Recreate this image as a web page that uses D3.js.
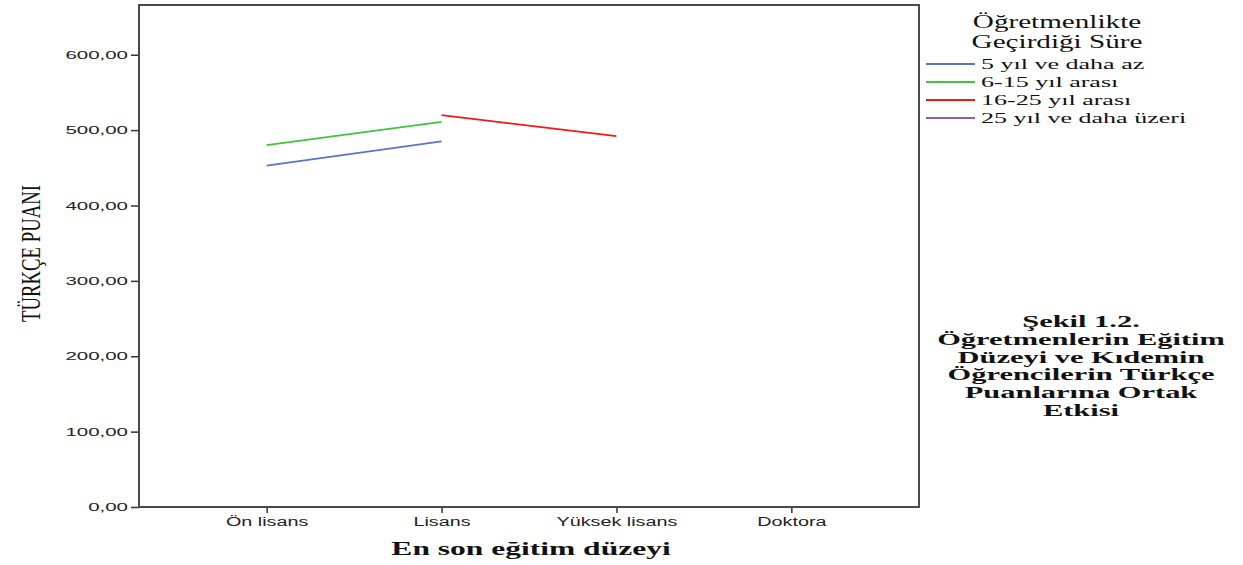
<!DOCTYPE html>
<html>
<head>
<meta charset="utf-8">
<script src="https://cdn.jsdelivr.net/npm/d3@7"></script>
<style>
  body { margin: 0; background: #fff; }
  .tick text { font-family: "Liberation Sans", Arial, sans-serif; fill: #222; }
  .serif { font-family: "Liberation Serif", "Times New Roman", serif; fill: #111; }
</style>
</head>
<body>
<div id="chart"></div>
<script>
// categories and series
const levels = ['Ön lisans', 'Lisans', 'Yüksek lisans', 'Doktora'];
const seriesNames = ['5 yıl ve daha az', '6-15 yıl arası', '16-25 yıl arası', '25 yıl ve daha üzeri'];
const lessThan5 = [453, 485, null, null];
const from6to15 = [480, 511, null, null];
const from16to25 = [null, 520, 492, null];
const over25 = [null, null, null, null];
const yTicks = [0, 100, 200, 300, 400, 500, 600];
const legendTitle = ['Öğretmenlikte', 'Geçirdiği Süre'];
const captionLines = ['Şekil 1.2.', 'Öğretmenlerin Eğitim', 'Düzeyi ve Kıdemin', 'Öğrencilerin Türkçe', 'Puanlarına Ortak', 'Etkisi'];

const colors = ['#5a72c8', '#3ec43e', '#f21818', '#9a58a4'];
const allSeries = [lessThan5, from6to15, from16to25, over25];

const svgWidth = 1243;
const svgHeight = 565;
const plot = { left: 139, top: 5, right: 919, bottom: 507 };
// the original picture is stretched sideways, so is its text
const stretch = 1.68;

const svg = d3.select('#chart')
  .append('svg')
  .attr('width', svgWidth)
  .attr('height', svgHeight);

const x = d3.scalePoint()
  .domain(levels)
  .range([plot.left, plot.right])
  .padding(0.73);

const y = d3.scaleLinear()
  .domain([0, 666])
  .range([plot.bottom, plot.top]);

// axes
const yAxis = svg.append('g')
  .attr('transform', `translate(${plot.left},0)`)
  .call(d3.axisLeft(y).tickValues(yTicks).tickSize(8)
    .tickFormat(d => d3.format('.2f')(d).replace('.', ',')));
yAxis.select('.domain').remove();
yAxis.selectAll('.tick line').attr('stroke', '#333').attr('stroke-width', 1.5);
yAxis.selectAll('.tick text')
  .attr('x', 0)
  .attr('font-size', 11.5)
  .attr('transform', 'translate(-11,0) scale(1.78,1)');

const xAxis = svg.append('g')
  .attr('transform', `translate(0,${plot.bottom})`)
  .call(d3.axisBottom(x).tickSize(6).tickPadding(4));
xAxis.select('.domain').remove();
xAxis.selectAll('.tick line').attr('stroke', '#333').attr('stroke-width', 1.5);
xAxis.selectAll('.tick text')
  .attr('font-size', 12)
  .attr('transform', 'scale(1.65,1)');

// frame
svg.append('rect')
  .attr('x', plot.left)
  .attr('y', plot.top)
  .attr('width', plot.right - plot.left)
  .attr('height', plot.bottom - plot.top)
  .attr('fill', 'none')
  .attr('stroke', '#4a4a4a')
  .attr('stroke-width', 2);

// lines
const line = d3.line()
  .defined(d => d.v !== null)
  .x(d => x(d.k))
  .y(d => y(d.v));

allSeries.forEach((vals, i) => {
  svg.append('path')
    .attr('d', line(vals.map((v, j) => ({ k: levels[j], v }))))
    .attr('fill', 'none')
    .attr('stroke', colors[i])
    .attr('stroke-width', 1.8);
});

// text placed at (px, py) and widened like the original
function wideText(parent, px, py, str, size, anchor, bold, sx) {
  return parent.append('text')
    .attr('class', 'serif')
    .attr('transform', `translate(${px},${py}) scale(${sx || stretch},1)`)
    .attr('text-anchor', anchor)
    .attr('font-size', size)
    .attr('font-weight', bold ? 'bold' : 'normal')
    .text(str);
}

// axis titles
wideText(svg, 531, 555, 'En son eğitim düzeyi', 19, 'middle', true, 1.66);

svg.append('text')
  .attr('class', 'serif')
  .attr('transform', 'translate(40,253.5) scale(1.65,1) rotate(-90)')
  .attr('text-anchor', 'middle')
  .attr('font-size', 16)
  .attr('textLength', 137)
  .attr('lengthAdjust', 'spacingAndGlyphs')
  .text('TÜRKÇE PUANI');

// legend
legendTitle.forEach((t, i) => wideText(svg, 1057, 28 + i * 19.5, t, 18, 'middle', false, 1.62));

const legend = svg.append('g').attr('transform', 'translate(926,0)');
legend.selectAll('line')
  .data(seriesNames)
  .enter()
  .append('line')
  .attr('x1', 0)
  .attr('x2', 49)
  .attr('y1', (d, i) => 64 + i * 18)
  .attr('y2', (d, i) => 64 + i * 18)
  .attr('stroke', (d, i) => colors[i])
  .attr('stroke-width', 1.8);

seriesNames.forEach((s, i) => wideText(legend, 55, 69 + i * 18, s, 15.5, 'start', false, 1.68));

// caption
captionLines.forEach((t, i) => wideText(svg, 1081, 327 + i * 17.8, t, 17.5, 'middle', true, 1.74));
</script>
</body>
</html>
